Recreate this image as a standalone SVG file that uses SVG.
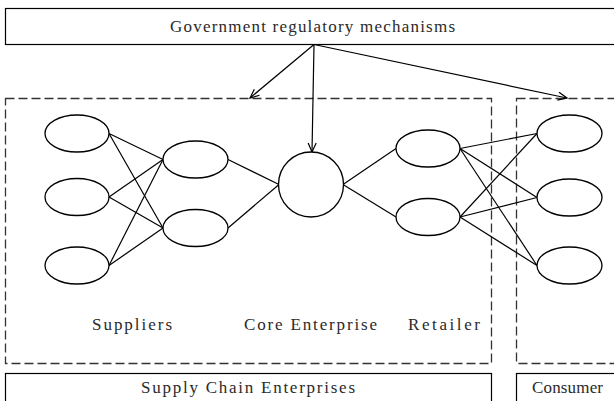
<svg xmlns="http://www.w3.org/2000/svg" width="614" height="401" viewBox="0 0 614 401">
  <defs>
    <marker id="open-arrow" markerWidth="12" markerHeight="12" refX="10" refY="5" orient="auto" markerUnits="userSpaceOnUse">
      <polyline points="1,1 10,5 1,9" fill="none" stroke="#000" stroke-width="1.2"/>
    </marker>
  </defs>
  <style>
    .box { fill: #fff; stroke: #000; stroke-width: 1.2; }
    .zone { fill: none; stroke: #333; stroke-width: 1.3; stroke-dasharray: 9 4; }
    .node { fill: #fff; stroke: #000; stroke-width: 1.3; }
    .link { stroke: #000; stroke-width: 1.2; fill: none; }
    .arrow { stroke: #000; stroke-width: 1.2; fill: none; marker-end: url(#open-arrow); }
    .label { font-family: "Liberation Serif", "DejaVu Serif", serif; font-size: 17px; fill: #2a2a2a; }
  </style>
  <rect width="614" height="401" fill="#fff"/>

  <!-- Regulator -->
  <g id="government">
    <rect class="box" x="5.5" y="8.5" width="620" height="36"/>
    <text class="label" x="170" y="32" textLength="285" lengthAdjust="spacing">Government regulatory mechanisms</text>
  </g>

  <!-- Dashed group outlines -->
  <g id="supply-chain-zone">
    <rect class="zone" x="5.5" y="98.5" width="486" height="265"/>
  </g>
  <g id="consumer-zone">
    <rect class="zone" x="516.5" y="98.5" width="120" height="265"/>
  </g>

  <!-- Connectors -->
  <g id="connectors">
    <line class="arrow" x1="314" y1="44.5" x2="250" y2="98"/>
    <line class="arrow" x1="314" y1="44.5" x2="312" y2="152"/>
    <line class="arrow" x1="314" y1="44.5" x2="567" y2="98"/>

    <!-- suppliers to tier-2 -->
    <line class="link" x1="109" y1="133.5" x2="163" y2="159.5"/>
    <line class="link" x1="109" y1="133.5" x2="163" y2="228"/>
    <line class="link" x1="109" y1="197" x2="163" y2="159.5"/>
    <line class="link" x1="109" y1="197" x2="163" y2="228"/>
    <line class="link" x1="109" y1="265.5" x2="163" y2="159.5"/>
    <line class="link" x1="109" y1="265.5" x2="163" y2="228"/>

    <!-- tier-2 to core -->
    <line class="link" x1="228" y1="159.5" x2="279" y2="184.5"/>
    <line class="link" x1="228" y1="228" x2="279" y2="184.5"/>

    <!-- core to retailers -->
    <line class="link" x1="343" y1="184.5" x2="396" y2="148.5"/>
    <line class="link" x1="343" y1="184.5" x2="396" y2="217"/>

    <!-- retailers to consumers -->
    <line class="link" x1="460" y1="148.5" x2="537" y2="133.5"/>
    <line class="link" x1="460" y1="148.5" x2="537" y2="197.5"/>
    <line class="link" x1="460" y1="148.5" x2="537" y2="265.5"/>
    <line class="link" x1="460" y1="217" x2="537" y2="133.5"/>
    <line class="link" x1="460" y1="217" x2="537" y2="197.5"/>
    <line class="link" x1="460" y1="217" x2="537" y2="265.5"/>
  </g>

  <!-- Nodes -->
  <g id="supplier-1"><ellipse class="node" cx="77" cy="133.5" rx="32" ry="18.5"/></g>
  <g id="supplier-2"><ellipse class="node" cx="77" cy="197" rx="32" ry="18.5"/></g>
  <g id="supplier-3"><ellipse class="node" cx="77" cy="265.5" rx="32" ry="18.5"/></g>
  <g id="supplier-4"><ellipse class="node" cx="195.5" cy="159.5" rx="32.5" ry="18.5"/></g>
  <g id="supplier-5"><ellipse class="node" cx="195.5" cy="228" rx="32.5" ry="18.5"/></g>
  <g id="core-enterprise"><circle class="node" cx="311" cy="184.5" r="32.5"/></g>
  <g id="retailer-1"><ellipse class="node" cx="428" cy="148.5" rx="32" ry="18.5"/></g>
  <g id="retailer-2"><ellipse class="node" cx="428" cy="217" rx="32" ry="18.5"/></g>
  <g id="consumer-1"><ellipse class="node" cx="569.5" cy="133.5" rx="32.5" ry="18.5"/></g>
  <g id="consumer-2"><ellipse class="node" cx="569.5" cy="197.5" rx="32.5" ry="18.5"/></g>
  <g id="consumer-3"><ellipse class="node" cx="569.5" cy="265.5" rx="32.5" ry="18.5"/></g>

  <!-- Tier labels -->
  <g id="tier-labels">
    <text class="label" x="92" y="330" textLength="80" lengthAdjust="spacing">Suppliers</text>
    <text class="label" x="244" y="330" textLength="133" lengthAdjust="spacing">Core Enterprise</text>
    <text class="label" x="408" y="330" textLength="72" lengthAdjust="spacing">Retailer</text>
  </g>

  <!-- Bottom captions -->
  <g id="supply-chain-enterprises">
    <rect class="box" x="5.5" y="373.5" width="486" height="40"/>
    <text class="label" x="141" y="393" textLength="214" lengthAdjust="spacing">Supply Chain Enterprises</text>
  </g>
  <g id="consumer">
    <rect class="box" x="516.5" y="373.5" width="120" height="40"/>
    <text class="label" x="532" y="393" textLength="71" lengthAdjust="spacing">Consumer</text>
  </g>
</svg>
